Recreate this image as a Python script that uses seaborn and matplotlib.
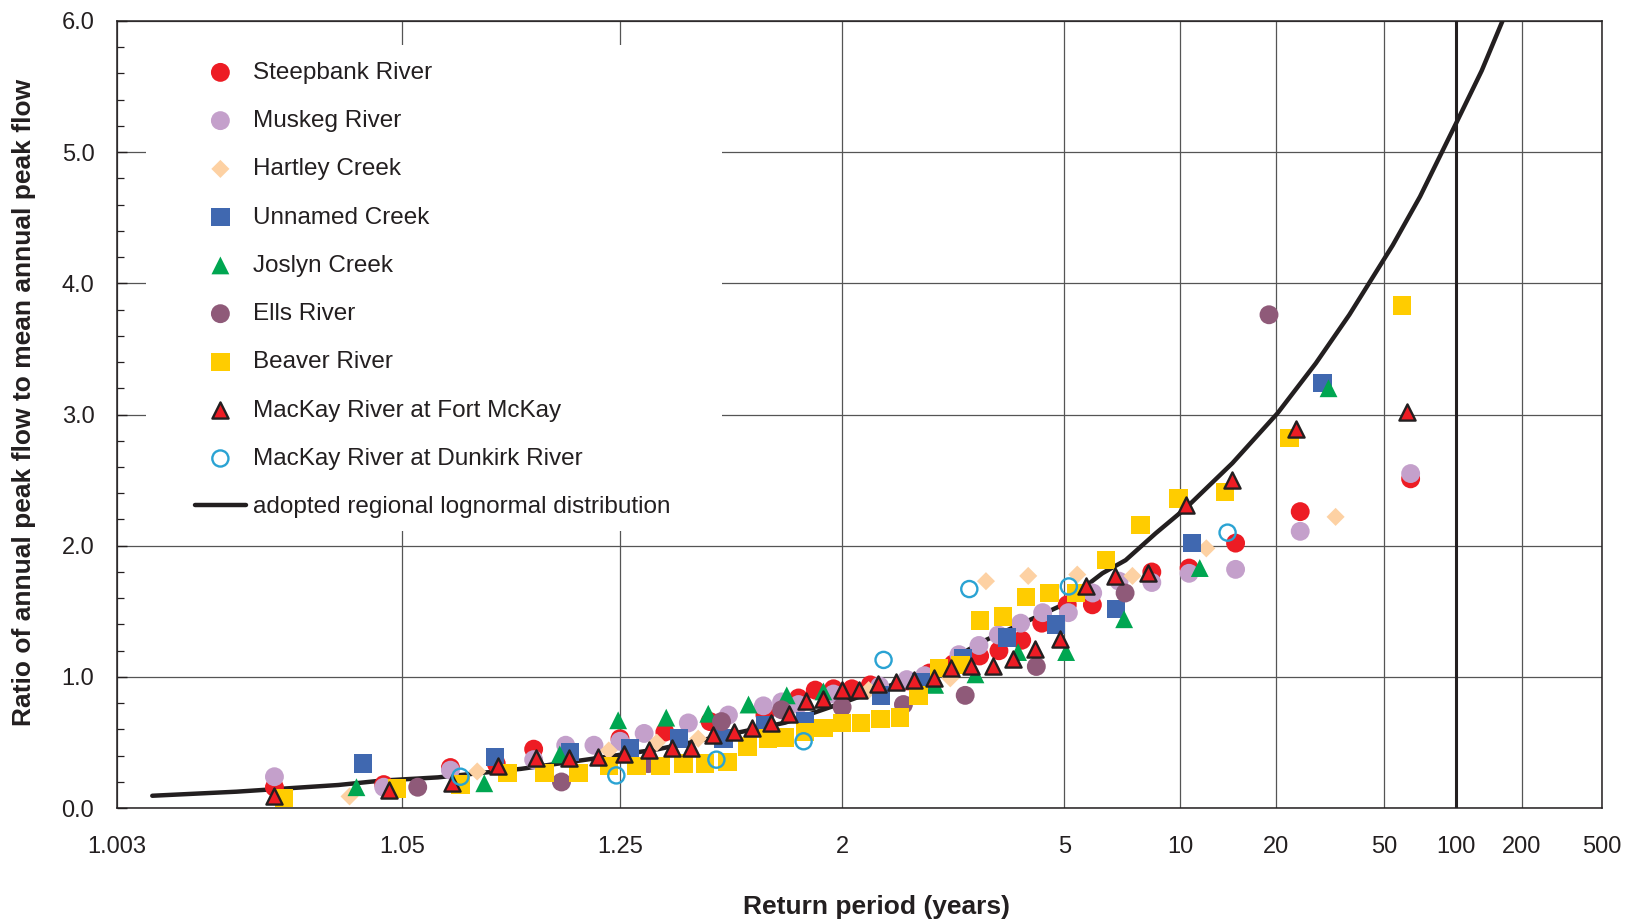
#Regional flood frequency plot - ratio of annual peak flow vs return period
from statistics import NormalDist
import numpy as np
import pandas as pd
import seaborn as sns
import matplotlib.pyplot as plt
from matplotlib.patches import Rectangle
from matplotlib.ticker import MultipleLocator, NullLocator

# return periods (years) and ratio of annual peak flow to mean annual peak flow
steepbank_T = [1.016, 1.043, 1.074, 1.105, 1.138, 1.250, 1.335, 1.446, 1.626, 1.768, 1.850, 1.949, 2.061, 2.186,
               2.49, 2.70, 2.97, 3.32, 3.62, 4.03, 4.45, 5.08, 5.83, 8.31, 10.6, 14.7, 24.2, 64]
steepbank_ratio = [0.16, 0.18, 0.31, 0.34, 0.45, 0.53, 0.58, 0.66, 0.71, 0.84, 0.90, 0.91, 0.91, 0.94,
                   0.97, 1.03, 1.10, 1.16, 1.20, 1.28, 1.41, 1.55, 1.55, 1.80, 1.83, 2.02, 2.26, 2.51]

muskeg_T = [1.016, 1.043, 1.074, 1.138, 1.173, 1.210, 1.250, 1.293, 1.389, 1.500, 1.620, 1.693, 1.768, 1.949,
            2.255, 2.48, 2.65, 3.04, 3.31, 3.61, 4.01, 4.47, 5.11, 5.84, 6.80, 8.31, 10.6, 14.7, 24.2, 64]
muskeg_ratio = [0.24, 0.16, 0.29, 0.37, 0.48, 0.48, 0.51, 0.57, 0.65, 0.71, 0.78, 0.81, 0.79, 0.87,
                0.93, 0.98, 1.01, 1.17, 1.24, 1.32, 1.41, 1.49, 1.49, 1.64, 1.73, 1.72, 1.79, 1.82, 2.11, 2.55]

hartley_T = [1.032, 1.091, 1.232, 1.318, 1.414, 1.618, 2.174, 2.933, 3.414, 4.160, 5.362, 7.369, 11.93, 32.5]
hartley_ratio = [0.09, 0.28, 0.44, 0.50, 0.53, 0.60, 0.90, 0.99, 1.73, 1.77, 1.78, 1.77, 1.98, 2.22]

unnamed_T = [1.036, 1.104, 1.178, 1.267, 1.367, 1.485, 1.626, 1.800, 2.267, 2.62, 3.09, 3.76, 4.79, 6.69, 10.8, 29.1]
unnamed_ratio = [0.34, 0.39, 0.43, 0.46, 0.53, 0.53, 0.63, 0.66, 0.86, 0.96, 1.14, 1.30, 1.40, 1.52, 2.02, 3.24]

joslyn_T = [1.034, 1.096, 1.166, 1.247, 1.338, 1.441, 1.566, 1.715, 1.893, 2.76, 3.26, 3.96, 5.05, 7.01, 11.4, 30.6]
joslyn_ratio = [0.16, 0.19, 0.41, 0.67, 0.69, 0.72, 0.79, 0.86, 0.89, 0.94, 1.02, 1.19, 1.19, 1.44, 1.83, 3.20]

ells_T = [1.057, 1.168, 1.301, 1.479, 1.693, 2.0, 2.45, 3.12, 4.33, 7.05, 18.9]
ells_ratio = [0.16, 0.20, 0.34, 0.66, 0.75, 0.77, 0.79, 0.86, 1.08, 1.64, 3.76]

beaver_T = [1.0175, 1.048, 1.080, 1.114, 1.149, 1.189, 1.232, 1.279, 1.326, 1.377, 1.432, 1.497, 1.563, 1.637,
            1.708, 1.800, 1.893, 2.0, 2.122, 2.260, 2.422, 2.591, 2.80, 3.06, 3.33, 3.69, 4.11, 4.63, 5.32,
            6.29, 7.75, 9.87, 13.6, 22.2, 59]
beaver_ratio = [0.08, 0.15, 0.18, 0.27, 0.27, 0.27, 0.32, 0.32, 0.32, 0.34, 0.34, 0.35, 0.47, 0.53,
                0.54, 0.58, 0.61, 0.65, 0.65, 0.68, 0.69, 0.86, 1.07, 1.09, 1.43, 1.46, 1.61, 1.64, 1.64,
                1.89, 2.16, 2.36, 2.41, 2.82, 3.83]

mackay_fm_T = [1.016, 1.045, 1.075, 1.106, 1.140, 1.177, 1.216, 1.257, 1.302, 1.350, 1.395, 1.455, 1.516, 1.577,
               1.650, 1.725, 1.802, 1.893, 2.0, 2.109, 2.241, 2.386, 2.543, 2.745, 2.946, 3.197, 3.521, 3.864,
               4.297, 4.878, 5.618, 6.640, 8.130, 10.36, 14.37, 23.3, 62]
mackay_fm_ratio = [0.09, 0.14, 0.19, 0.32, 0.38, 0.38, 0.39, 0.41, 0.44, 0.46, 0.46, 0.56, 0.58, 0.61,
                   0.65, 0.72, 0.82, 0.83, 0.90, 0.90, 0.95, 0.96, 0.98, 0.99, 1.07, 1.08, 1.08, 1.14,
                   1.21, 1.29, 1.69, 1.77, 1.79, 2.31, 2.50, 2.89, 3.02]

mackay_dk_T = [1.080, 1.244, 1.464, 1.792, 2.285, 3.175, 5.123, 13.87]
mackay_dk_ratio = [0.24, 0.25, 0.37, 0.51, 1.13, 1.67, 1.69, 2.10]

# adopted regional lognormal distribution
curve_T = [1.0045, 1.011, 1.029, 1.042, 1.067, 1.126, 1.226, 1.321, 1.470, 1.708, 1.939, 2.692, 3.406,
           4.859, 6.169, 7.072, 8.518, 10.36, 14.37, 20.2, 27.5, 36.6, 54.1, 70, 100, 130, 162]
curve_ratio = [0.095, 0.126, 0.177, 0.21, 0.235, 0.30, 0.39, 0.45, 0.545, 0.652, 0.774, 1.04, 1.28,
               1.536, 1.79, 1.89, 2.095, 2.286, 2.63, 3.01, 3.39, 3.76, 4.29, 4.66, 5.22, 5.62, 6.0]

xticks = [1.003, 1.05, 1.25, 2, 5, 10, 20, 50, 100, 200, 500]
xtick_labels = ['1.003', '1.05', '1.25', '2', '5', '10', '20', '50', '100', '200', '500']

# normal probability scale for return period
nd = NormalDist()
_ppf = np.vectorize(nd.inv_cdf, otypes=[float])
_cdf = np.vectorize(nd.cdf, otypes=[float])


def to_z(t):
    t = np.asarray(t, dtype=float)
    with np.errstate(divide='ignore', invalid='ignore'):
        p = 1.0 - 1.0 / t
    p = np.nan_to_num(p, nan=1e-9)
    return _ppf(np.clip(p, 1e-9, 1 - 1e-9))


def from_z(z):
    z = np.asarray(z, dtype=float)
    return 1.0 / (1.0 - np.clip(_cdf(z), 0, 1 - 1e-12))


sns.set_theme(style="white")
plt.rcParams['font.family'] = ['Liberation Sans', 'DejaVu Sans']
ink = '#231f20'

fig, ax = plt.subplots(figsize=(16.33, 9.24), dpi=100)
fig.subplots_adjust(left=0.0714, right=0.9809, bottom=0.1253, top=0.9775)

sns.lineplot(x=curve_T, y=curve_ratio, sort=False, estimator=None, color=ink, lw=3.2,
             label='adopted regional lognormal distribution', ax=ax, zorder=2)

series = [
    ("Steepbank River", steepbank_T, steepbank_ratio,
     dict(marker='o', s=185, color='#ed1c24', edgecolor='none', linewidth=0)),
    ("Muskeg River", muskeg_T, muskeg_ratio,
     dict(marker='o', s=185, color='#c4a0cb', edgecolor='none', linewidth=0)),
    ("Hartley Creek", hartley_T, hartley_ratio,
     dict(marker='D', s=85, color='#fdd1a3', edgecolor='none', linewidth=0)),
    ("Unnamed Creek", unnamed_T, unnamed_ratio,
     dict(marker='s', s=175, color='#4068b0', edgecolor='none', linewidth=0)),
    ("Joslyn Creek", joslyn_T, joslyn_ratio,
     dict(marker='^', s=165, color='#00a651', edgecolor='none', linewidth=0)),
    ("Ells River", ells_T, ells_ratio,
     dict(marker='o', s=185, color='#8f5a79', edgecolor='none', linewidth=0)),
    ("Beaver River", beaver_T, beaver_ratio,
     dict(marker='s', s=175, color='#ffcc00', edgecolor='none', linewidth=0)),
    ("MacKay River at Fort McKay", mackay_fm_T, mackay_fm_ratio,
     dict(marker='^', s=135, color='#ed1c24', edgecolor=ink, linewidth=1.7)),
    ("MacKay River at Dunkirk River", mackay_dk_T, mackay_dk_ratio,
     dict(marker='o', s=135, color='#2aa3d3', facecolor='none', edgecolor='#2aa3d3', linewidth=1.7)),
]

for i, (name, t, r, style) in enumerate(series):
    sns.scatterplot(x=t, y=r, ax=ax, label=name, zorder=3 + i * 0.1, **style)

ax.set_xscale('function', functions=(to_z, from_z))
ax.set_xlim(1.003, 500)
ax.set_ylim(0, 6)
ax.set_xticks(xticks)
ax.set_xticklabels(xtick_labels)
ax.xaxis.set_minor_locator(NullLocator())
ax.yaxis.set_major_locator(MultipleLocator(1.0))
ax.yaxis.set_minor_locator(MultipleLocator(0.2))
ax.yaxis.set_major_formatter(plt.FormatStrFormatter('%.1f'))

ax.set_axisbelow(True)
ax.grid(True, which='major', color='#555555', lw=0.9)
ax.axvline(100, color=ink, lw=2.2, zorder=1)

# white box behind the legend hides the grid
ax.add_patch(Rectangle((0.02, 0.352), 0.3874, 0.6176, transform=ax.transAxes,
                       facecolor='white', edgecolor='none', zorder=1.5))

for sp in ax.spines.values():
    sp.set_color(ink)
    sp.set_linewidth(1.1)
    sp.set_visible(True)

ax.tick_params(axis='y', which='major', direction='in', length=7, width=1, pad=16,
               labelsize=17, colors=ink, left=True)
ax.tick_params(axis='y', which='minor', direction='in', length=5, width=0.9, colors=ink, left=True)
ax.tick_params(axis='x', which='major', length=0, pad=20, labelsize=17, colors=ink)

ax.set_xlabel('Return period (years)', fontsize=19, fontweight='bold', color=ink)
ax.set_ylabel('Ratio of annual peak flow to mean annual peak flow', fontsize=19,
              fontweight='bold', color=ink)
ax.xaxis.set_label_coords(0.5116, -0.110)
ax.yaxis.set_label_coords(-0.054, 0.515)

handles, labels = ax.get_legend_handles_labels()
order = list(range(1, len(handles))) + [0]
ax.legend([handles[k] for k in order], [labels[k] for k in order], loc='upper left',
          bbox_to_anchor=(0.0527, 0.948), frameon=False, fontsize=17.5, handlelength=2.1,
          handletextpad=0.28, labelspacing=1.08, borderpad=0, borderaxespad=0,
          labelcolor=ink)

plt.savefig('out.png', dpi=100)
